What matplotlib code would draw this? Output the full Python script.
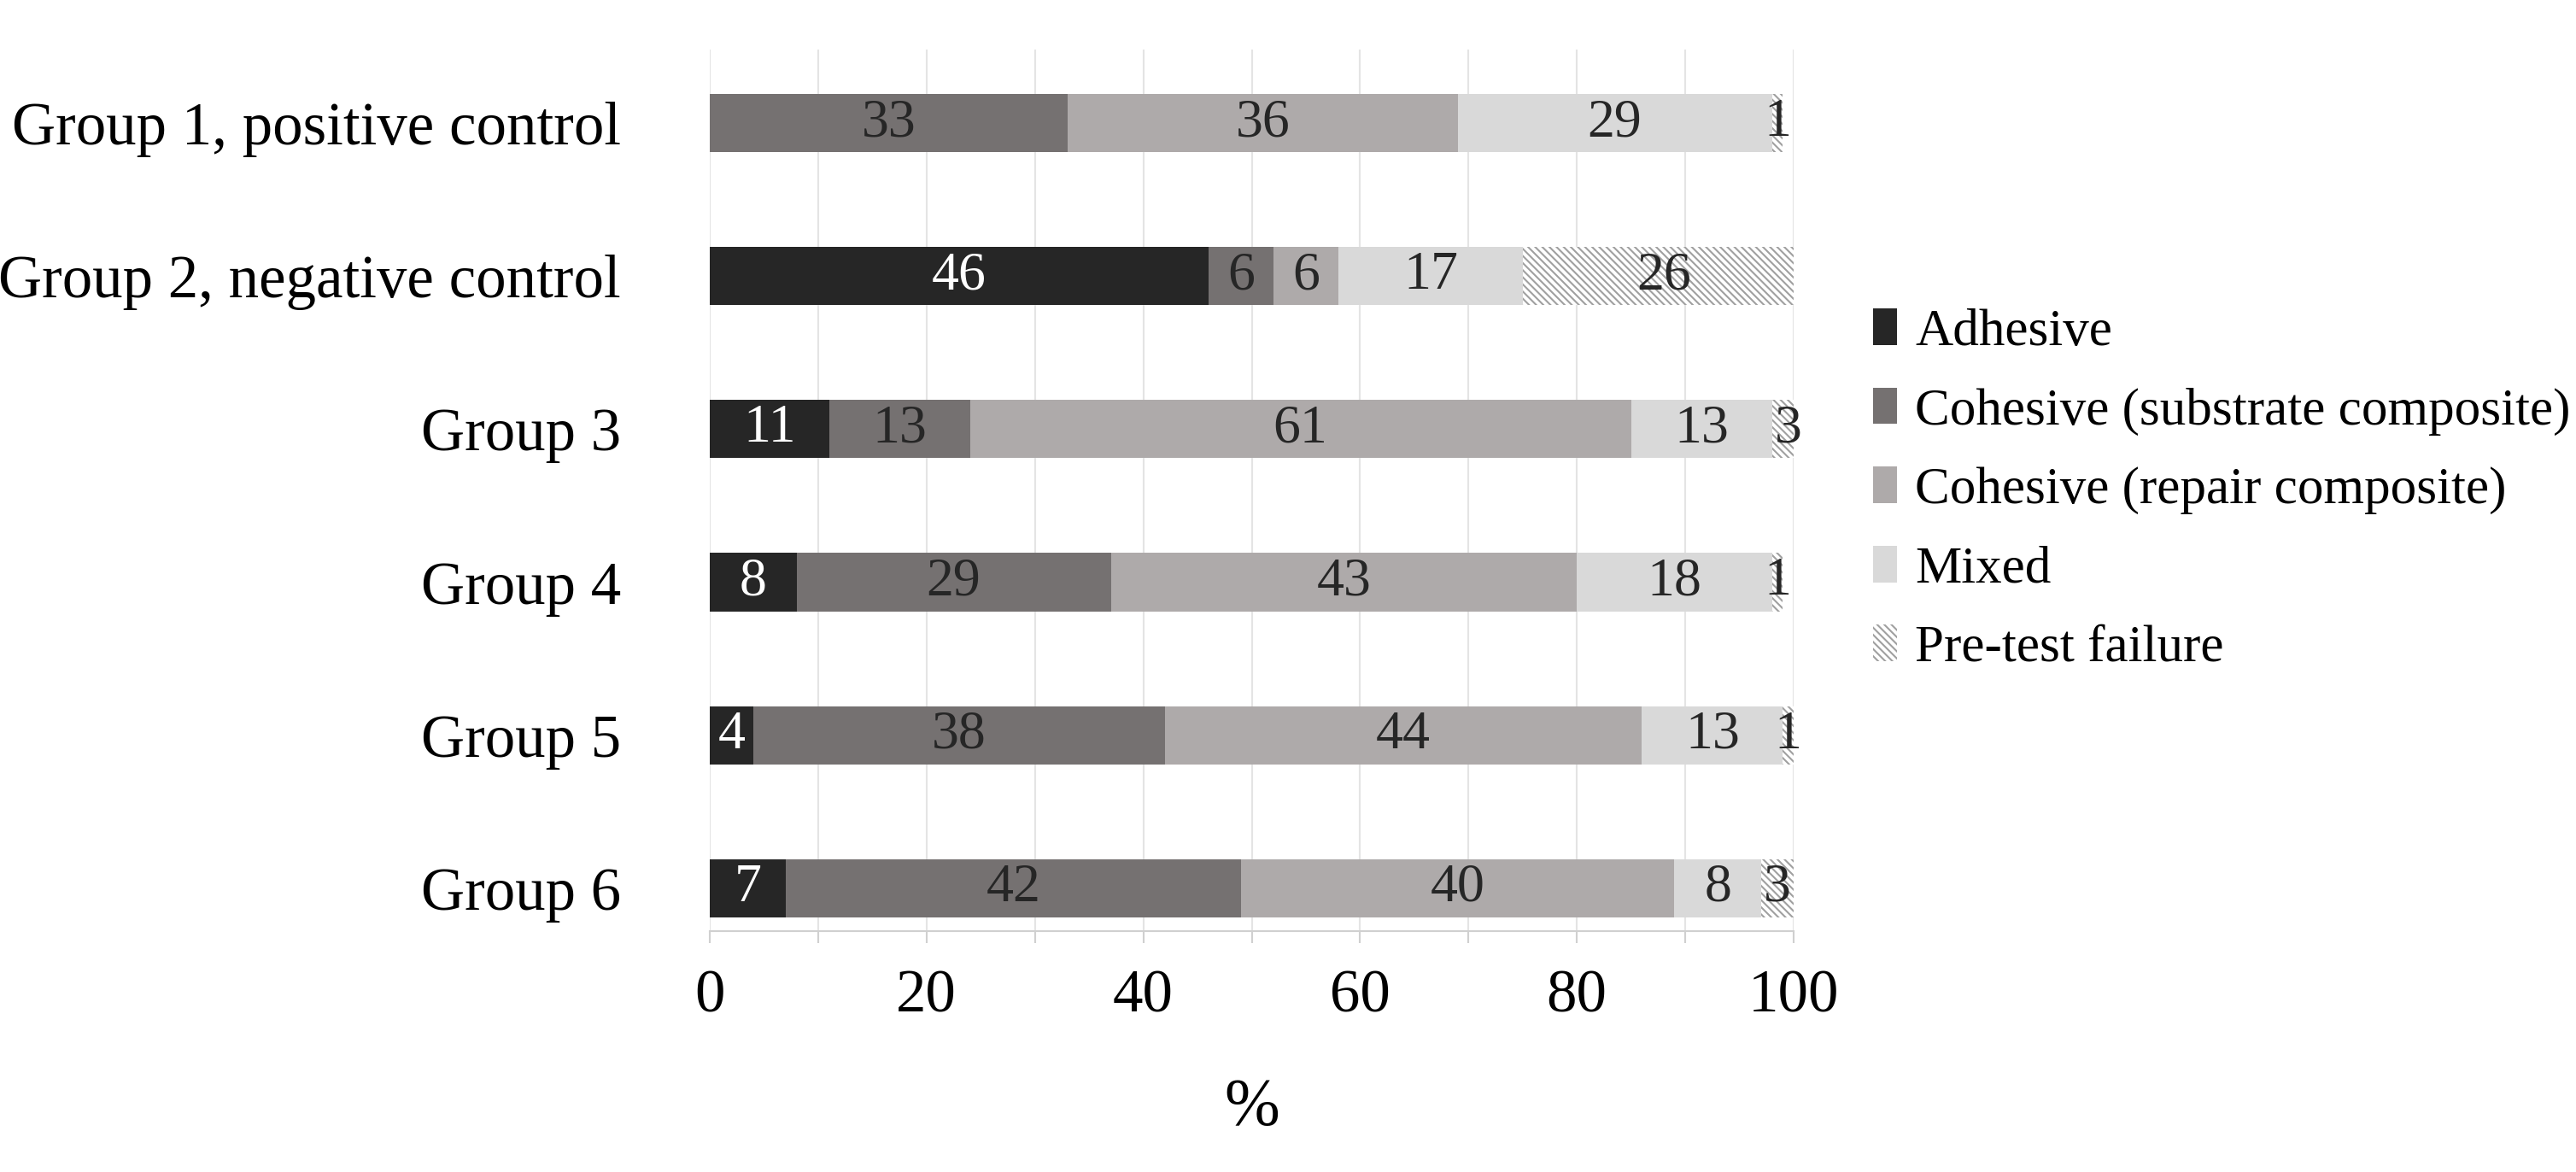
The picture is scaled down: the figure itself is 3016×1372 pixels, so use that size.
import numpy as np
import matplotlib.pyplot as plt

groups = ['Group 1, positive control', 'Group 2, negative control', 'Group 3',
          'Group 4', 'Group 5', 'Group 6']
series = ['Adhesive', 'Cohesive (substrate composite)', 'Cohesive (repair composite)',
          'Mixed', 'Pre-test failure']
adhesive = [0, 46, 11, 8, 4, 7]
substrate = [33, 6, 13, 29, 38, 42]
repair = [36, 6, 61, 43, 44, 40]
mixed = [29, 17, 13, 18, 13, 8]
pretest = [1, 26, 3, 1, 1, 3]

colors = ['#262626', '#757171', '#aeaaaa', '#d9d9d9', 'white']
text_colors = ['white', '#262626', '#262626', '#262626', '#262626']

plt.rcParams['font.family'] = ['Liberation Serif', 'DejaVu Serif']
plt.rcParams['hatch.color'] = '#a0a0a0'
plt.rcParams['hatch.linewidth'] = 1.5

fig = plt.figure(figsize=(30.16, 13.72), dpi=100)
ax = fig.add_axes([831 / 3016, 1 - 1090 / 1372, (2100 - 831) / 3016, (1090 - 58) / 1372])

y = np.arange(len(groups))
left = np.zeros(len(groups))
for i, vals in enumerate([adhesive, substrate, repair, mixed, pretest]):
    vals = np.array(vals, dtype=float)
    bars = ax.barh(y, vals, left=left, height=0.38, color=colors[i],
                   hatch='\\\\\\\\' if i == 4 else None, linewidth=0,
                   label=series[i], zorder=3)
    for b, v in zip(bars, vals):
        if v > 0:
            ax.text(b.get_x() + b.get_width() / 2, b.get_y() + b.get_height() / 2,
                    '%d' % v, ha='center', va='center', fontsize=46,
                    color=text_colors[i], zorder=4)
    left += vals

ax.set_xlim(0, 100)
ax.set_ylim(5.28, -0.48)
ax.set_yticks(y)
ax.set_yticklabels(groups, fontsize=51)
ax.set_xticks(np.arange(0, 101, 20))
ax.set_xticks(np.arange(0, 101, 10), minor=True)
ax.tick_params(axis='x', which='both', labelsize=51, length=10, color='#d0d0d0',
               pad=22, width=1.5)
ax.tick_params(axis='y', length=0, pad=75)
ax.grid(axis='x', which='both', color='#e4e4e4', linewidth=1.5, zorder=0)
for s in ['top', 'right', 'left']:
    ax.spines[s].set_visible(False)
ax.spines['bottom'].set_color('#d0d0d0')
ax.spines['bottom'].set_linewidth(1.5)
ax.set_xlabel('%', fontsize=56, labelpad=45)

leg = ax.legend(loc='center left', bbox_to_anchor=(1.03, 0.5), frameon=False,
                fontsize=44, handlelength=0.45, handleheight=0.7, handletextpad=0.35,
                labelspacing=0.6)
for h in leg.legend_handles[:4]:
    h.set_edgecolor('none')

fig.savefig('out.png', dpi=100, facecolor='white')
